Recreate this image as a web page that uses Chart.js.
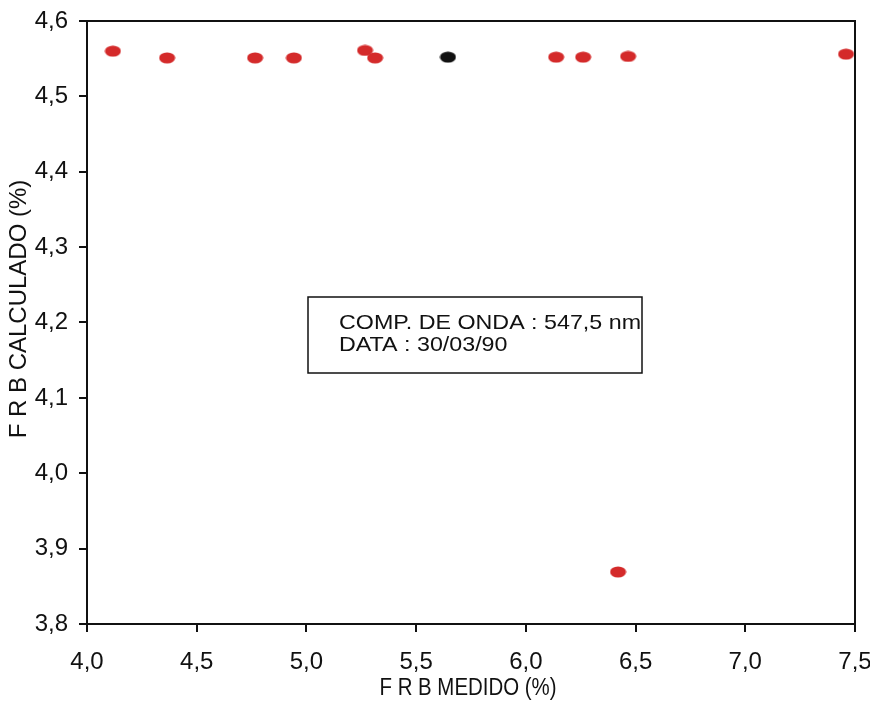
<!DOCTYPE html>
<html>
<head>
<meta charset="utf-8">
<script src="https://cdn.jsdelivr.net/npm/chart.js@4"></script>
<style>
  html, body { margin: 0; padding: 0; background: #fff; }
  #wrap { width: 870px; height: 701px; }
</style>
</head>
<body>
<div id="wrap"><canvas id="chart"></canvas></div>
<script>
// measured vs calculated FRB
const medidoRed = [4.118, 4.365, 4.766, 4.943, 5.267, 5.313, 6.138, 6.261, 6.466, 7.459, 6.420];
const calcRed   = [4.560, 4.551, 4.551, 4.551, 4.561, 4.551, 4.552, 4.552, 4.553, 4.556, 3.869];
const medidoBlack = [5.645];
const calcBlack   = [4.552];
const xTicks = [4.0, 4.5, 5.0, 5.5, 6.0, 6.5, 7.0, 7.5];
const yTicks = [3.8, 3.9, 4.0, 4.1, 4.2, 4.3, 4.4, 4.5, 4.6];
const xTitle = "F R B MEDIDO (%)";
const yTitle = "F R B CALCULADO (%)";
const boxLines = ["COMP. DE ONDA : 547,5 nm", "DATA : 30/03/90"];

const FONT = "'Liberation Sans', Arial, sans-serif";
const INK = "#111";

function toPoints(xs, ys) {
  return xs.map((x, i) => ({ x: x, y: ys[i] }));
}

// small flattened dot used as point style
function ellipse(color) {
  const c = document.createElement("canvas");
  c.width = 17; c.height = 12;
  const g = c.getContext("2d");
  g.fillStyle = color;
  g.beginPath();
  g.ellipse(8.5, 6, 8, 5.5, 0, 0, Math.PI * 2);
  g.fill();
  return c;
}

// text squeezed/stretched horizontally to a given width
function fitText(ctx, text, x, y, width) {
  const w = ctx.measureText(text).width;
  ctx.save();
  ctx.translate(x, y);
  ctx.scale(width / w, 1);
  ctx.fillText(text, 0, 0);
  ctx.restore();
}

const comma = (v) => v.toFixed(1).replace(".", ",");

const frame = {
  id: "frame",
  afterDraw(chart) {
    const { ctx, chartArea: a } = chart;
    ctx.save();
    ctx.strokeStyle = INK;
    ctx.lineWidth = 2;
    ctx.beginPath();
    ctx.moveTo(a.left, a.top);
    ctx.lineTo(a.right, a.top);
    ctx.lineTo(a.right, a.bottom);
    ctx.stroke();

    ctx.fillStyle = INK;
    ctx.textBaseline = "middle";

    // axis titles
    ctx.font = "23px " + FONT;
    ctx.textAlign = "center";
    fitText(ctx, xTitle, 468, 689, 177);
    ctx.font = "24px " + FONT;
    ctx.save();
    ctx.translate(19, 309);
    ctx.rotate(-Math.PI / 2);
    ctx.fillText(yTitle, 0, 0);
    ctx.restore();

    // info box
    ctx.lineWidth = 1.5;
    ctx.strokeRect(308, 297, 334, 76);
    ctx.font = "21px " + FONT;
    ctx.textAlign = "left";
    const w0 = ctx.measureText(boxLines[0]).width;
    const w1 = ctx.measureText(boxLines[1]).width;
    fitText(ctx, boxLines[0], 339, 323, 302);
    fitText(ctx, boxLines[1], 339, 345, w1 * 302 / w0);
    ctx.restore();
  }
};

new Chart(document.getElementById("chart"), {
  type: "scatter",
  data: {
    datasets: [
      {
        data: toPoints(medidoRed, calcRed),
        pointStyle: ellipse("#d42a2a"),
        backgroundColor: "#d42a2a"
      },
      {
        data: toPoints(medidoBlack, calcBlack),
        pointStyle: ellipse(INK),
        backgroundColor: INK
      }
    ]
  },
  options: {
    responsive: true,
    maintainAspectRatio: false,
    animation: false,
    layout: { padding: { top: 21, right: 0, left: 0, bottom: 0 } },
    plugins: {
      legend: { display: false },
      tooltip: { enabled: false }
    },
    scales: {
      x: {
        type: "linear",
        min: 4.0,
        max: 7.5,
        afterBuildTicks: (s) => { s.ticks = xTicks.map((v) => ({ value: v })); },
        afterFit: (s) => {
          s.height = 77;
          s.paddingLeft = 0;
          s.paddingRight = 15;
        },
        ticks: {
          callback: comma,
          color: INK,
          font: { family: FONT, size: 24 },
          padding: 16,
          maxRotation: 0
        },
        grid: { drawOnChartArea: false, tickLength: 8, color: INK, lineWidth: 2 },
        border: { color: INK, width: 2 }
      },
      y: {
        type: "linear",
        min: 3.8,
        max: 4.6,
        afterBuildTicks: (s) => { s.ticks = yTicks.map((v) => ({ value: v })); },
        afterFit: (s) => {
          s.width = 87;
          s.paddingTop = 0;
          s.paddingBottom = 0;
        },
        ticks: {
          callback: comma,
          color: INK,
          font: { family: FONT, size: 24 },
          padding: 11
        },
        grid: { drawOnChartArea: false, tickLength: 8, color: INK, lineWidth: 2 },
        border: { color: INK, width: 2 }
      }
    }
  },
  plugins: [frame]
});
</script>
</body>
</html>
